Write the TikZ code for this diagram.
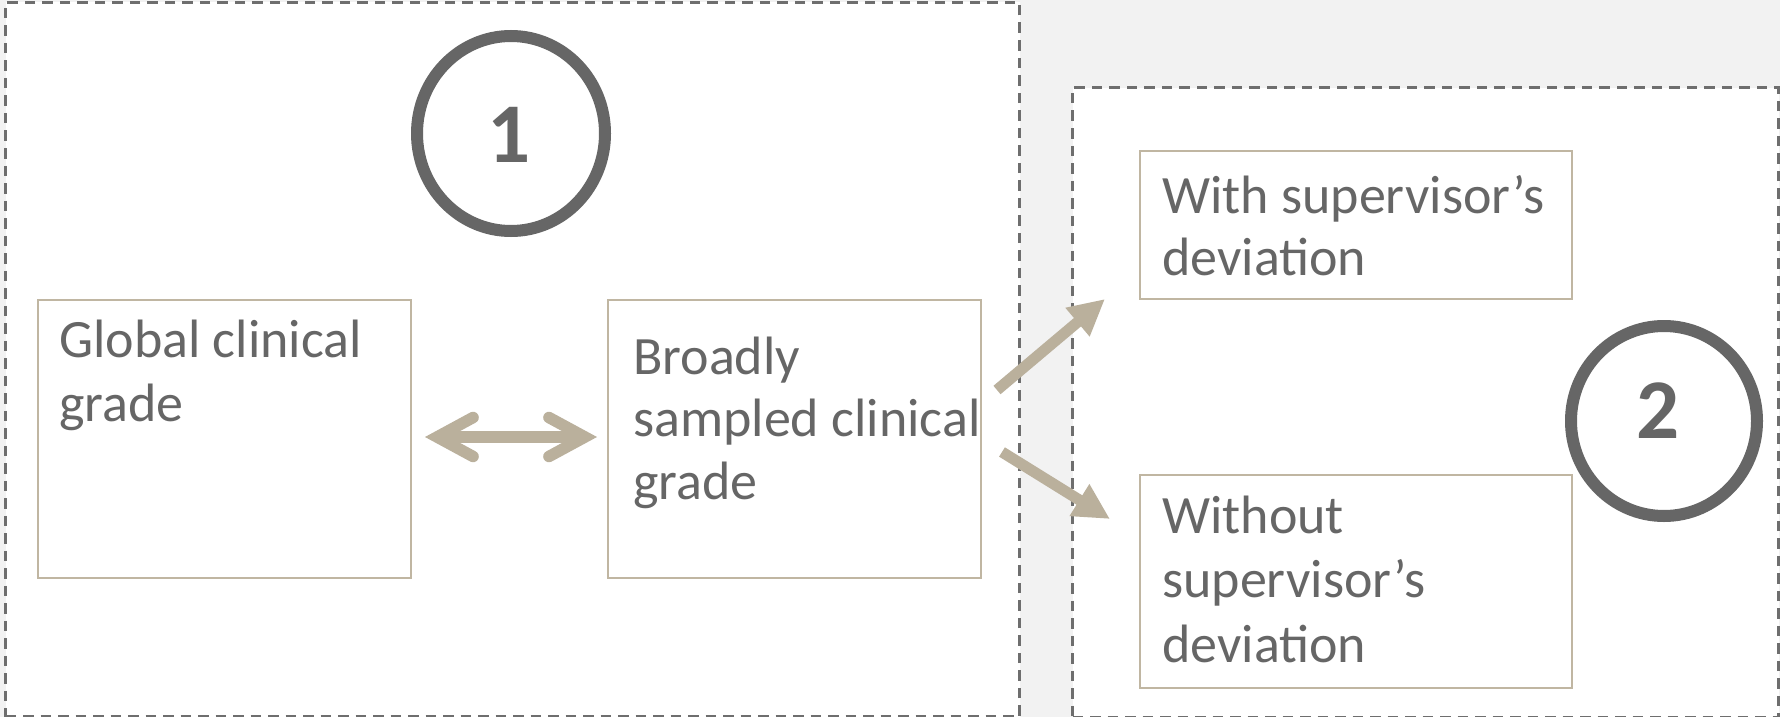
\documentclass[tikz,border=0pt]{standalone}
\usepackage{fontspec}
\setmainfont{Carlito}
\usetikzlibrary{arrows.meta,shapes.geometric}
\definecolor{txtc}{HTML}{666666}
\definecolor{tanc}{HTML}{BAB09C}
\definecolor{boxc}{HTML}{C0B6A2}
\definecolor{dashc}{HTML}{6E6E6E}
\definecolor{ringc}{HTML}{666666}
\definecolor{bgc}{HTML}{F2F2F2}
\tikzset{
  barbtip/.tip={Straight Barb[length=36pt,width=39pt,line cap=round,line join=miter]},
  headtip/.tip={Triangle[length=36pt,width=35pt]}
}
\begin{document}
\begin{tikzpicture}[x=1pt,y=-1pt,
  panel/.style={draw=dashc, fill=white, line width=3pt, dash pattern=on 10.5pt off 7pt, anchor=north west, inner sep=0pt},
  card/.style={draw=boxc, line width=2pt, fill=white, anchor=north west, inner sep=0pt},
  txtlabel/.style={anchor=base west, inner sep=0pt, text=txtc},
  ring/.style={ellipse, draw=ringc, line width=12pt, inner sep=0pt},
  digit/.style={text=ringc, font=\fontsize{85}{90}\selectfont\bfseries, inner sep=0pt},
  flow/.style={draw=tanc, line width=11.5pt}
]
\useasboundingbox (0,0) rectangle (1780,717);
\fill[bgc] (0,0) rectangle (1780,717);

% dashed panels
\node[panel, minimum width=1014pt, minimum height=714pt] (p1) at (4,1) {};
\node[panel, minimum width=706pt, minimum height=630pt] (p2) at (1071,86) {};

% cards
\node[card, minimum width=373pt, minimum height=278pt] (global) at (37,299) {};
\node[card, minimum width=373pt, minimum height=278pt] (broad) at (607,299) {};
\node[card, minimum width=432pt, minimum height=148pt] (with) at (1139,150) {};
\node[card, minimum width=432pt, minimum height=213pt] (without) at (1139,474) {};

% texts
\node[txtlabel, font=\fontsize{54}{64}\selectfont] (tglobal) at (59,357)
  {\begin{tabular}[t]{@{}l@{}}Global clinical\\grade\end{tabular}};
\node[txtlabel, font=\fontsize{54}{62.5}\selectfont] (tbroad) at (633,374)
  {\begin{tabular}[t]{@{}l@{}}Broadly\\sampled clinical\\grade\end{tabular}};
\node[txtlabel, font=\fontsize{54}{62}\selectfont] (twith) at (1162,213)
  {\begin{tabular}[t]{@{}l@{}}With supervisor’s\\deviation\end{tabular}};
\node[txtlabel, font=\fontsize{54}{64.5}\selectfont] (twithout) at (1162,533)
  {\begin{tabular}[t]{@{}l@{}}Without\\supervisor’s\\deviation\end{tabular}};

% rings
\node[ring, minimum width=188pt, minimum height=195pt] (c1) at (511,133.5) {};
\node[digit] (d1) at (509.5,135) {1};
\node[ring, minimum width=186pt, minimum height=190pt] (c2) at (1664,421) {};
\node[digit] (d2) at (1658.5,410.5) {2};

% connectors
\coordinate (la) at (425,437);
\coordinate (ra) at (597,437);
\draw[flow, {barbtip}-{barbtip}] (la) -- (ra);

\coordinate (u0) at (997,390);
\coordinate (u1) at (1105,299);
\draw[flow, line width=11pt, -{headtip}] (u0) -- (u1);

\coordinate (w0) at (1002,452);
\coordinate (w1) at (1110,519);
\draw[flow, line width=11pt, -{headtip}] (w0) -- (w1);
\end{tikzpicture}
\end{document}
